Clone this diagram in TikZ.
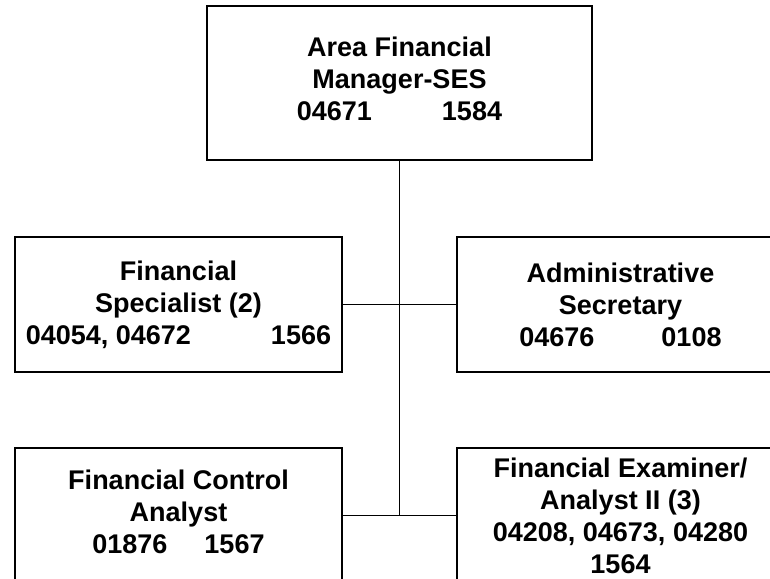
\documentclass[tikz,border=0pt]{standalone}
\usepackage{fontspec}
\setmainfont{Liberation Sans}
\begin{document}
\begin{tikzpicture}[x=1pt,y=-1pt,
  posfont/.style={font=\fontsize{27}{32}\selectfont\bfseries,align=center},
  posbox/.style={draw=black,line width=2pt,fill=white,rectangle,
    minimum width=327pt,minimum height=135pt,inner sep=0pt,posfont},
  link/.style={draw=black,line width=1.8pt}]
\useasboundingbox (0,0) rectangle (770,578);
\clip (0,0) rectangle (770,578);
\fill[white] (0,0) rectangle (770,578);

% head of the unit
\node[posbox,minimum width=385pt,minimum height=154pt,
  label={[posfont,yshift=4pt]center:Area Financial\\Manager-SES\\04671\hspace{70pt}1584}]
  (mgr) at (399.5,83) {};

% second tier
\node[posbox] (spec) at (178.5,304.5)
  {Financial\\Specialist (2)\\04054, 04672\hspace{80pt}1566};
\node[posbox] (sec) at (620.5,304.5)
  {Administrative\\Secretary\\04676\hspace{67pt}0108};

% third tier
\node[posbox,
  label={[posfont,yshift=4pt]center:Financial Control\\Analyst\\01876\hspace{37pt}1567}]
  (ctrl) at (178.5,515.5) {};
\node[posbox] (exam) at (620.5,515.5)
  {Financial Examiner/\\Analyst II (3)\\04208, 04673, 04280\\1564};

% reporting lines
\coordinate (trunk) at (mgr.south |- ctrl.east);
\draw[link] (mgr.south) -- (trunk);
\draw[link] (spec.east) -- (sec.west);
\draw[link] (ctrl.east) -- (exam.west);
\end{tikzpicture}
\end{document}
